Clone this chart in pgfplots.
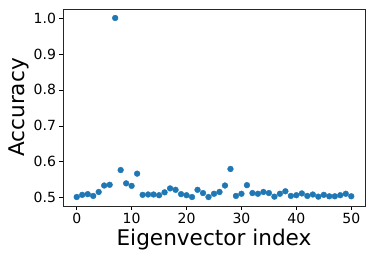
\documentclass[border=0pt]{standalone}
\usepackage{pgfplots}
\pgfplotsset{compat=1.18}
\usepackage{fontspec}
\setmainfont{DejaVu Sans}
\definecolor{mplblue}{HTML}{1F77B4}
\begin{document}
\begin{tikzpicture}
\useasboundingbox (-63pt,-53pt) rectangle (311pt,206pt);
\begin{axis}[
  scale only axis,
  width=302pt, height=197pt,
  xmin=-2.5, xmax=52.5,
  ymin=0.477, ymax=1.025,
  xtick={0,10,20,30,40,50},
  ytick={0.5,0.6,0.7,0.8,0.9,1.0},
  yticklabel style={/pgf/number format/fixed,/pgf/number format/fixed zerofill,/pgf/number format/precision=1},
  /pgf/number format/assume math mode=true,
  tick align=outside,
  tick pos=left,
  major tick length=3.5pt,
  tick style={black, line width=0.6pt},
  axis line style={line width=0.6pt, black!85},
  ticklabel style={font=\fontsize{14}{16}\selectfont},
  xlabel={Eigenvector index},
  ylabel={Accuracy},
  label style={font=\fontsize{21.6}{24}\selectfont},
  xlabel style={yshift=1pt},
  ylabel style={yshift=-2pt},
]
\addplot[only marks, mark=*, mark size=2.9pt, color=mplblue, mark options={draw=mplblue, fill=mplblue}] coordinates {
(0,0.502) (1,0.508) (2,0.510) (3,0.505) (4,0.516) (5,0.534) (6,0.536) (7,1.000)
(8,0.577) (9,0.540) (10,0.533) (11,0.567) (12,0.508) (13,0.509) (14,0.509) (15,0.507)
(16,0.515) (17,0.526) (18,0.522) (19,0.510) (20,0.507) (21,0.502) (22,0.522) (23,0.513)
(24,0.502) (25,0.511) (26,0.516) (27,0.534) (28,0.580) (29,0.505) (30,0.511) (31,0.535)
(32,0.513) (33,0.511) (34,0.516) (35,0.513) (36,0.503) (37,0.511) (38,0.518) (39,0.505)
(40,0.507) (41,0.512) (42,0.505) (43,0.509) (44,0.503) (45,0.508) (46,0.504) (47,0.504)
(48,0.507) (49,0.511) (50,0.504)
};
\end{axis}
\end{tikzpicture}
\end{document}
